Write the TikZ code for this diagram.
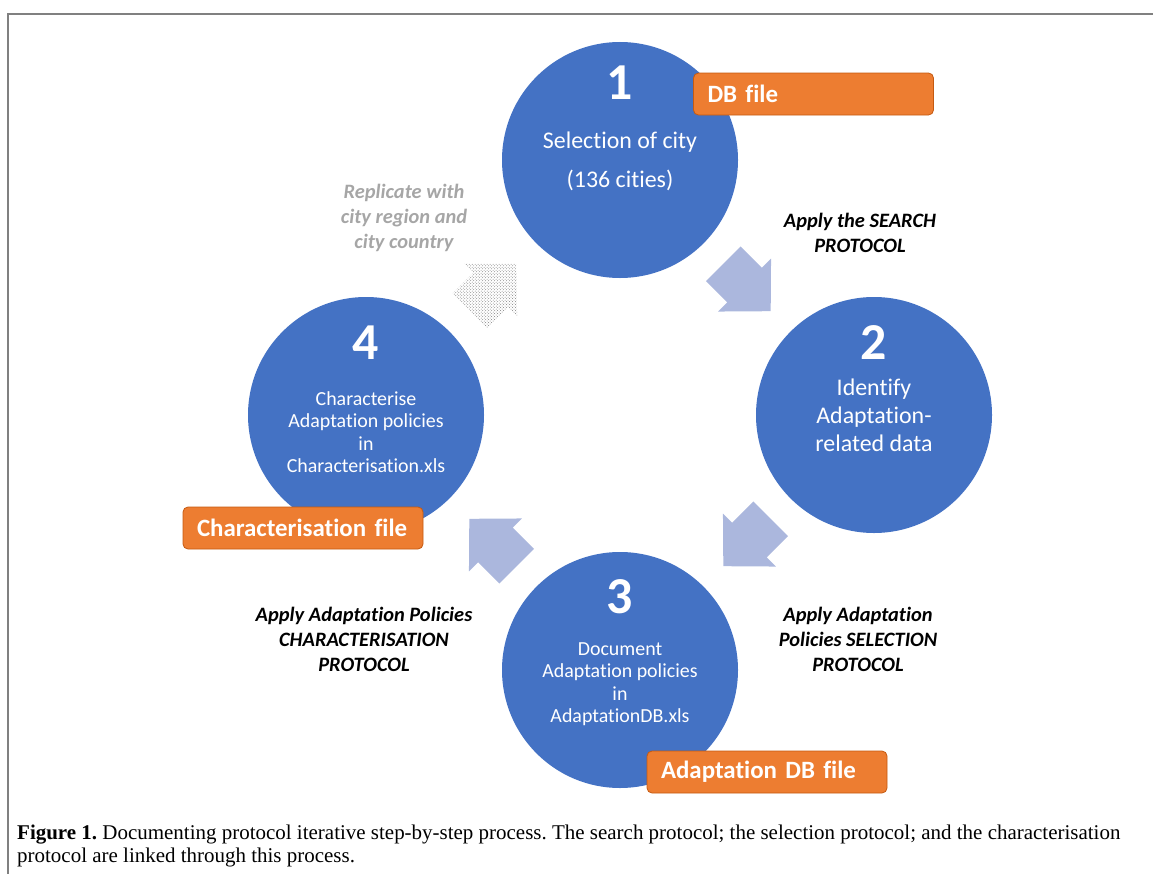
\documentclass[tikz,border=0pt]{standalone}
\usepackage{fontspec}
\setmainfont{Liberation Serif}
\newfontfamily\calibri[Ligatures=NoCommon]{Carlito}
\usepackage{xcolor}
\usetikzlibrary{calc,patterns}

\definecolor{stepblue}{RGB}{68,114,196}
\definecolor{arrowblue}{RGB}{171,183,221}
\definecolor{fileorange}{RGB}{237,125,49}
\definecolor{fileborder}{RGB}{197,90,17}
\definecolor{replgray}{RGB}{166,166,166}
\definecolor{framegray}{RGB}{128,128,128}

\tikzset{
  stepcircle/.style={circle, fill=stepblue, minimum size=236bp, inner sep=0pt},
  stepnum/.style={text=white, inner sep=0pt, font=\calibri\bfseries\fontsize{52}{52}\selectfont},
  steptext/.style={text=white, align=center, inner sep=0pt},
  filebox/.style={draw=fileborder, fill=fileorange, rounded corners=5bp, line width=0.8bp,
    minimum height=42bp, text width=212bp, inner xsep=14bp, align=left, text=white,
    font=\calibri\bfseries\fontsize{25}{25}\selectfont},
  protolabel/.style={align=center, inner sep=0pt, font=\calibri\bfseries\itshape\fontsize{20.5}{25}\selectfont},
  captext/.style={anchor=base west, inner sep=0pt, font=\frenchspacing\fontsize{21.05}{23}\selectfont},
  pics/blockarrow/.style={code={
    \path[#1] (-33.5,-24.5) -- (-3.5,-24.5) -- (-3.5,-37.5) -- (33.5,0)
      -- (-3.5,37.5) -- (-3.5,24.5) -- (-33.5,24.5) -- cycle;}},
}

\begin{document}
\begin{tikzpicture}[x=1bp,y=-1bp]
\useasboundingbox (0,0) rectangle (1153,874);
% frame
\coordinate (fbl) at (8,874);
\coordinate (ftl) at (8,14);
\coordinate (ftr) at (1153,14);
\draw[framegray, line width=1.5bp] (fbl) -- (ftl) -- (ftr);

% the four steps
\coordinate (c1) at (620,160);
\coordinate (c2) at (874,415);
\coordinate (c3) at (620,670);
\coordinate (c4) at (366,415);

% arrows between the steps
\path ($(c1)!0.5!(c2)$) pic[rotate=-45] {blockarrow={fill=arrowblue}};
\path ($(c2)!0.5!(c3)$) pic[rotate=-135] {blockarrow={fill=arrowblue}};
\path ($(c3)!0.5!(c4)$) pic[rotate=135] {blockarrow={fill=arrowblue}};
\path ($(c4)!0.5!(c1)$) pic[rotate=45] {blockarrow={pattern=crosshatch dots, pattern color=gray}};

\node[stepcircle] (s1) at (c1) {};
\node[stepcircle] (s2) at (c2) {};
\node[stepcircle] (s3) at (c3) {};
\node[stepcircle] (s4) at (c4) {};

\node[stepnum] (n1) at ($(c1)+(0,-77)$) {1};
\node[stepnum] (n2) at ($(c2)+(0,-72)$) {2};
\node[stepnum] (n3) at ($(c3)+(0,-73)$) {3};
\node[stepnum] (n4) at ($(c4)+(0,-72)$) {4};

\node[steptext, font=\calibri\fontsize{24}{39}\selectfont] (t1) at ($(c1)+(0,1)$) {Selection of city\\(136 cities)};
\node[steptext, font=\calibri\fontsize{24}{28}\selectfont] (t2) at ($(c2)+(0,0)$) {Identify\\Adaptation-\\related data};
\node[steptext, font=\calibri\fontsize{20}{22.5}\selectfont] (t3) at ($(c3)+(0,14)$) {Document\\Adaptation policies\\in\\AdaptationDB.xls};
\node[steptext, font=\calibri\fontsize{20}{22.5}\selectfont] (t4) at ($(c4)+(0,17)$) {Characterise\\Adaptation policies\\in\\Characterisation.xls};

% files
\node[filebox] (f1) at (813.5,94) {DB file};
\node[filebox] (f3) at (767,772) {Adaptation DB file};
\node[filebox] (f4) at (303,528) {Characterisation file};

% protocols
\node[protolabel] (p1) at (860,233) {Apply the SEARCH\\PROTOCOL};
\node[protolabel] (p2) at (858,639) {Apply Adaptation\\Policies SELECTION\\PROTOCOL};
\node[protolabel] (p3) at (364,639) {Apply Adaptation Policies\\CHARACTERISATION\\PROTOCOL};
\node[protolabel, text=replgray] (p4) at (404,218) {Replicate with\\city region and\\city country};

% caption
\node[captext] (cap1) at (17,839)
  {\textbf{Figure 1.} Documenting protocol iterative step-by-step process. The search protocol; the selection protocol; and the characterisation};
\node[captext] (cap2) at (17,862) {protocol are linked through this process.};
\end{tikzpicture}
\end{document}
